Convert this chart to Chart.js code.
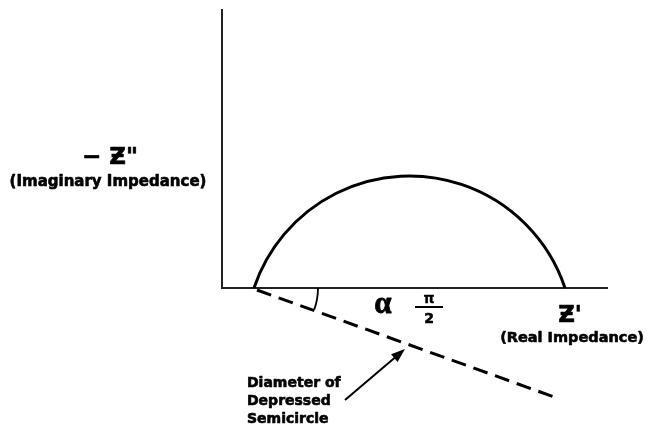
<!DOCTYPE html>
<html>
<head>
<meta charset="utf-8">
<script src="https://cdn.jsdelivr.net/npm/chart.js@4.4.1/dist/chart.umd.min.js"></script>
<style>
  html, body { margin: 0; padding: 0; background: #fff; }
  #wrap { width: 659px; height: 427px; }
</style>
</head>
<body>
<div id="wrap"><canvas id="c" width="659" height="427"></canvas></div>
<script>
// ── Plot units ────────────────────────────────────────────────────────────────
const xRange = [0, 385];            // Z' axis extent
const yRange = [0, 278];            // -Z'' axis extent

// Depressed semicircle: where it meets the real axis, and its peak height
const arcIntercepts = [32, 343];
const arcPeak = 112;

// Diameter of the depressed semicircle (dips below the real axis)
const diameterLine = [{ x: 35, y: -2 }, { x: 335, y: -110 }];

// Radius of the small arc marking the depression angle
const angleRadius = 64;

// Arrow pointing at the diameter
const arrowFrom = { x: 123, y: -112 };
const arrowTo = { x: 183, y: -61 };

const INK = '#000';
const sans = '"DejaVu Sans", Verdana, sans-serif';

// ── Semicircle, angle mark and arrow ──────────────────────────────────────────
const shapes = {
  id: 'shapes',
  afterDatasetsDraw(chart) {
    const { ctx, scales: { x, y } } = chart;
    const [r1, r2] = arcIntercepts;
    const half = (r2 - r1) / 2;
    const R = (half * half + arcPeak * arcPeak) / (2 * arcPeak);
    const cx = x.getPixelForValue(r1 + half), cy = y.getPixelForValue(arcPeak - R);
    const rx = x.getPixelForValue(R) - x.getPixelForValue(0);
    const ry = y.getPixelForValue(0) - y.getPixelForValue(R);
    const s = (R - arcPeak) / R, c = half / R;

    ctx.save();
    ctx.strokeStyle = INK;
    ctx.lineCap = 'butt';

    ctx.beginPath();
    ctx.ellipse(cx, cy, rx, ry, 0, Math.atan2(-s, -c), Math.atan2(-s, c));
    ctx.lineWidth = 3;
    ctx.stroke();

    // angle between real axis and diameter
    const ox = x.getPixelForValue(r1), oy = y.getPixelForValue(0);
    const d0 = diameterLine[0], d1 = diameterLine[diameterLine.length - 1];
    const ang = Math.atan2(y.getPixelForValue(d1.y) - y.getPixelForValue(d0.y),
                           x.getPixelForValue(d1.x) - x.getPixelForValue(d0.x));
    const ar = x.getPixelForValue(r1 + angleRadius) - ox;
    ctx.beginPath();
    ctx.arc(ox, oy, ar, 0, ang);
    ctx.lineWidth = 1.8;
    ctx.stroke();

    // arrow
    const ax0 = x.getPixelForValue(arrowFrom.x), ay0 = y.getPixelForValue(arrowFrom.y);
    const ax1 = x.getPixelForValue(arrowTo.x), ay1 = y.getPixelForValue(arrowTo.y);
    const t = Math.atan2(ay1 - ay0, ax1 - ax0), hl = 14, hw = 5;
    ctx.beginPath();
    ctx.moveTo(ax0, ay0);
    ctx.lineTo(ax1 - hl * 0.8 * Math.cos(t), ay1 - hl * 0.8 * Math.sin(t));
    ctx.lineWidth = 2;
    ctx.stroke();
    ctx.beginPath();
    ctx.moveTo(ax1, ay1);
    ctx.lineTo(ax1 - hl * Math.cos(t) + hw * Math.sin(t), ay1 - hl * Math.sin(t) - hw * Math.cos(t));
    ctx.lineTo(ax1 - hl * Math.cos(t) - hw * Math.sin(t), ay1 - hl * Math.sin(t) + hw * Math.cos(t));
    ctx.closePath();
    ctx.fillStyle = INK;
    ctx.fill();
    ctx.restore();
  }
};

// ── Labels ────────────────────────────────────────────────────────────────────
const labels = {
  id: 'labels',
  afterDraw(chart) {
    const { ctx, scales: { x, y } } = chart;
    // heavy text: fill plus a thin outline
    const put = (txt, vx, vy, font, align, weight) => {
      const px = x.getPixelForValue(vx), py = y.getPixelForValue(vy);
      ctx.font = font;
      ctx.textAlign = align || 'center';
      ctx.fillText(txt, px, py);
      ctx.lineWidth = weight == null ? 0.6 : weight;
      if (ctx.lineWidth > 0) ctx.strokeText(txt, px, py);
    };
    ctx.save();
    ctx.fillStyle = INK;
    ctx.strokeStyle = INK;
    ctx.lineJoin = 'round';
    ctx.textBaseline = 'alphabetic';

    put('\u2212 \u01B5"', -112, 124, 'bold 23px ' + sans);
    put('(Imaginary Impedance)', -114, 102, 'bold 15px ' + sans);

    put("\u01B5'", 348, -34, 'bold 23px ' + sans);
    put('(Real Impedance)', 350, -54, 'bold 14.5px ' + sans);

    put('\u03B1', 161, -25, 'bold 31px "Liberation Serif", serif', 'center', 0.8);
    put('\u03C0', 207, -15, 'bold 14px ' + sans, 'center', 0.3);
    put('2', 207, -35, 'bold 14px ' + sans);
    ctx.fillRect(x.getPixelForValue(193), y.getPixelForValue(-19) - 1, x.getPixelForValue(221) - x.getPixelForValue(193), 2);

    put('Diameter of', 25, -99, 'bold 14px ' + sans, 'left');
    put('Depressed', 25, -117, 'bold 14px ' + sans, 'left');
    put('Semicircle', 25, -135, 'bold 14px ' + sans, 'left');
    ctx.restore();
  }
};

const axis = (range) => ({
  type: 'linear',
  min: range[0],
  max: range[1],
  grid: { display: false },
  ticks: { display: false },
  border: { display: true, color: '#222', width: 2 }
});

new Chart(document.getElementById('c'), {
  type: 'scatter',
  data: {
    datasets: [{
      label: 'diameter',
      data: diameterLine,
      showLine: true,
      borderColor: INK,
      borderWidth: 3,
      borderDash: [15, 8],
      pointRadius: 0,
      clip: false
    }]
  },
  options: {
    responsive: false,
    animation: false,
    layout: { padding: { left: 222, right: 52, top: 10, bottom: 139 } },
    scales: {
      x: Object.assign(axis(xRange), { afterFit: s => { s.height = 0; } }),
      y: Object.assign(axis(yRange), { afterFit: s => { s.width = 0; } })
    },
    plugins: { legend: { display: false }, tooltip: { enabled: false } }
  },
  plugins: [shapes, labels]
});
</script>
</body>
</html>
